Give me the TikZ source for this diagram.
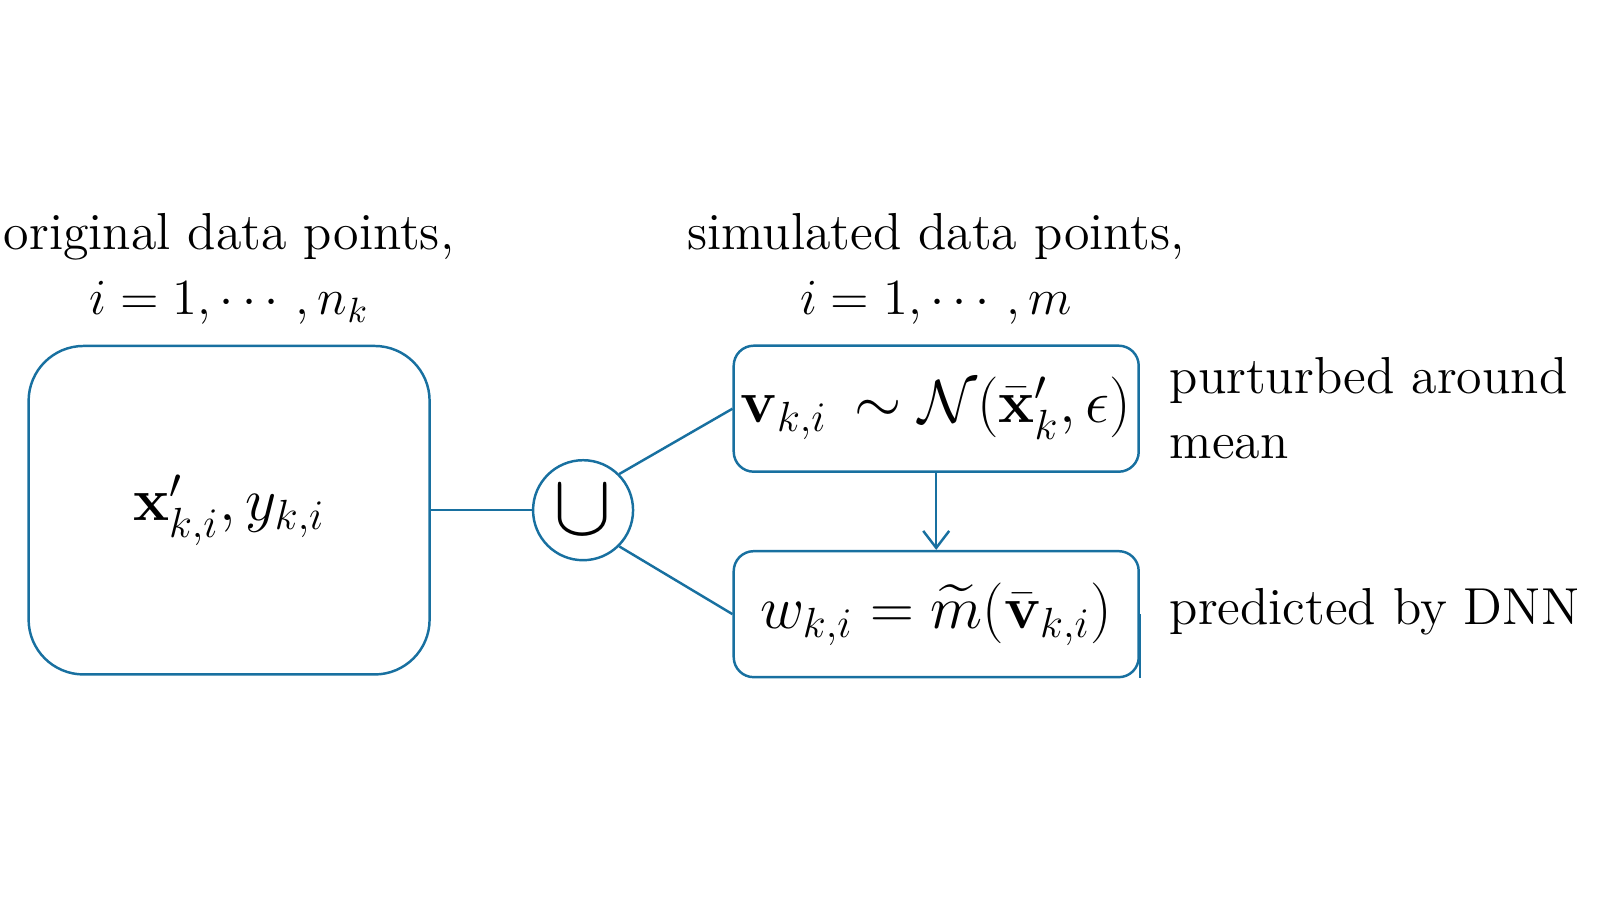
\documentclass[tikz,border=0pt]{standalone}
\usepackage{amsmath,amssymb}
\usepackage{xcolor}
\usepackage{tikz}
\usetikzlibrary{positioning,arrows.meta}

\definecolor{linkblue}{RGB}{24,112,160}

\begin{document}
\begin{tikzpicture}[
  >={Straight Barb[length=1.7mm,width=2.6mm]},
  every node/.style={font=\fontsize{14.8}{18.6}\selectfont},
  mathfont/.style={font=\fontsize{17.28}{20}\selectfont},
  bigbox/.style={draw=linkblue, line width=0.7pt, rounded corners=5.5mm,
                 minimum width=4.01cm, minimum height=3.285cm, mathfont},
  simbox/.style={draw=linkblue, line width=0.7pt, rounded corners=2mm,
                 minimum width=4.05cm, minimum height=1.26cm, inner sep=1pt, mathfont},
  unionnode/.style={draw=linkblue, line width=0.7pt, circle,
                    minimum size=1cm, inner sep=0pt},
  link/.style={draw=linkblue, line width=0.7pt},
  title/.style={align=center},
  note/.style={align=left, anchor=west, inner sep=0pt},
]
\useasboundingbox (0,0) rectangle (16,9);

\node[bigbox]                         (orig)   at (2.291,3.898) {$\mathbf{x}'_{k,i}, y_{k,i}$};
\node[unionnode, right=1.01cm of orig] (cup)   {\fontsize{24.88}{26}\selectfont$\cup$};
\node[simbox]                         (sample) at (9.362,4.913)
      {$\mathbf{v}_{k,i}\,\sim\mathcal{N}(\bar{\mathbf{x}}'_k,\epsilon)$};
\node[simbox, below=0.77cm of sample] (pred)   {$w_{k,i}=\widetilde{m}(\bar{\mathbf{v}}_{k,i})$};

% titles and side notes
\node[title] (origtitle) at (2.29,6.31)  {original data points,\\$i=1,\cdots,n_k$};
\node[title] (simtitle)  at (9.36,6.31)  {simulated data points,\\$i=1,\cdots,m$};
\node[note]  (perturb)   at (11.69,4.92) {purturbed around\\mean};
\node[note]  (dnn)       at (11.69,2.88) {predicted by DNN};

\draw[link] (orig.east) -- (cup.west);
\draw[link] (cup.north east) -- (sample.west);
\draw[link] (cup.south east) -- (pred.west);
\draw[link,->] (sample.south) -- (pred.north);
\draw[link] (pred.east) -- (pred.south east);
\end{tikzpicture}
\end{document}
